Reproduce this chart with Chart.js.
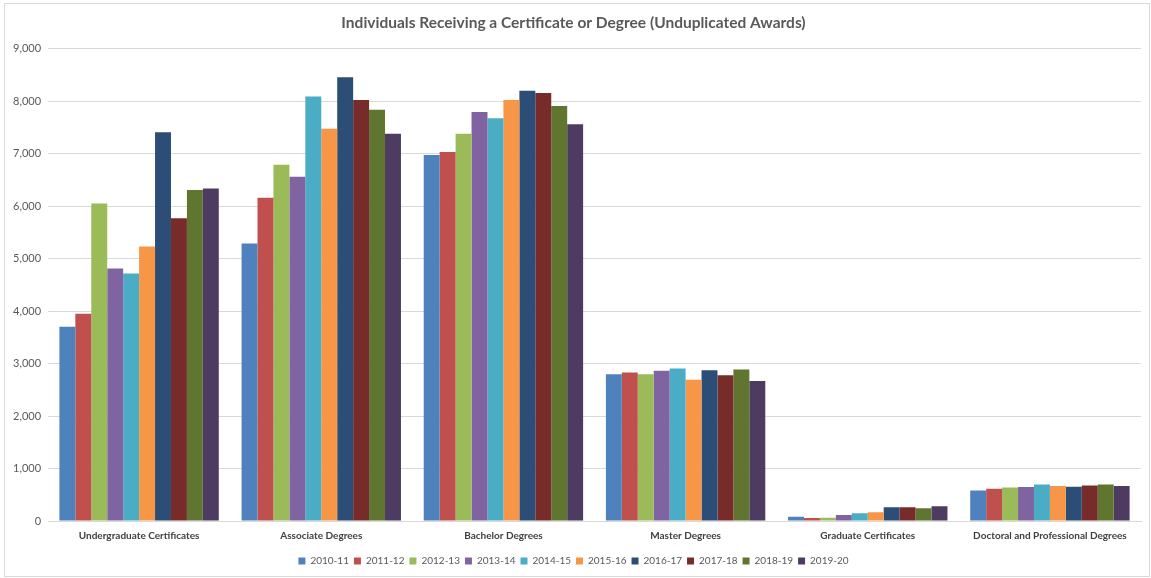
<!DOCTYPE html>
<html>
<head>
<meta charset="utf-8">
<script src="https://cdn.jsdelivr.net/npm/chart.js@4"></script>
<style>
  html, body { margin: 0; padding: 0; background: #ffffff; }
  #frame {
    position: absolute; left: 4px; top: 3px;
    width: 1146px; height: 574px;
    border: 1px solid #d9d9d9; box-sizing: border-box;
  }
  #chart { position: absolute; left: 0; top: 0; }
</style>
</head>
<body>
<div id="frame"><canvas id="chart" width="1144" height="572"></canvas></div>
<script>
// Award categories along the x axis
const categories = [
  'Undergraduate Certificates',
  'Associate Degrees',
  'Bachelor Degrees',
  'Master Degrees',
  'Graduate Certificates',
  'Doctoral and Professional Degrees'
];

// Academic years (one series each)
const years = ['2010-11', '2011-12', '2012-13', '2013-14', '2014-15',
               '2015-16', '2016-17', '2017-18', '2018-19', '2019-20'];

// Unduplicated awards per category, one array per year
const y2010_11 = [3700, 5285, 6975, 2797, 83, 582];
const y2011_12 = [3950, 6160, 7032, 2829, 57, 614];
const y2012_13 = [6050, 6786, 7380, 2797, 63, 640];
const y2013_14 = [4810, 6558, 7791, 2861, 114, 646];
const y2014_15 = [4715, 8089, 7671, 2905, 146, 696];
const y2015_16 = [5230, 7474, 8019, 2690, 165, 665];
const y2016_17 = [7405, 8455, 8196, 2873, 260, 652];
const y2017_18 = [5766, 8019, 8152, 2778, 260, 677];
const y2018_19 = [6304, 7835, 7905, 2886, 241, 696];
const y2019_20 = [6336, 7380, 7557, 2665, 279, 665];

const seriesValues = [y2010_11, y2011_12, y2012_13, y2013_14, y2014_15,
                      y2015_16, y2016_17, y2017_18, y2018_19, y2019_20];

// Office-style palette
const colors = ['#4F81BD', '#C0504D', '#9BBB59', '#8064A2', '#4BACC6',
                '#F79646', '#2C4D75', '#772C2A', '#5F7530', '#4D3B62'];

// Y axis tick values
const yTicks = [0, 1000, 2000, 3000, 4000, 5000, 6000, 7000, 8000, 9000];

const FONT = 'Lato, "Open Sans", "Liberation Sans", sans-serif';
const TEXT = '#595959';

const datasets = years.map((y, i) => ({
  label: y,
  data: seriesValues[i],
  backgroundColor: colors[i],
  borderWidth: 0,
  categoryPercentage: 0.875,
  barPercentage: 1.0
}));

new Chart(document.getElementById('chart'), {
  type: 'bar',
  data: { labels: categories, datasets },
  options: {
    responsive: false,
    animation: false,
    devicePixelRatio: 1,
    layout: { padding: { left: 1, right: 8, top: 10, bottom: 0 } },
    plugins: {
      title: {
        display: true,
        text: 'Individuals Receiving a Certificate or Degree (Unduplicated Awards)',
        color: TEXT,
        font: { family: FONT, size: 15.5, weight: 'bold' },
        padding: { top: 0, bottom: 16 }
      },
      legend: {
        position: 'bottom',
        labels: {
          color: TEXT,
          font: { family: FONT, size: 10 },
          boxWidth: 7,
          boxHeight: 7,
          padding: 5
        }
      },
      tooltip: { enabled: false }
    },
    scales: {
      x: {
        grid: { display: false, drawTicks: false },
        border: { color: '#d9d9d9' },
        ticks: {
          color: '#404040',
          font: { family: FONT, size: 10, weight: 'bold' },
          padding: 9,
          maxRotation: 0,
          autoSkip: false
        }
      },
      y: {
        min: 0,
        max: 9000,
        afterBuildTicks: (axis) => { axis.ticks = yTicks.map(v => ({ value: v })); },
        grid: { color: '#d9d9d9', drawTicks: false },
        border: { display: false },
        ticks: {
          color: TEXT,
          font: { family: FONT, size: 11 },
          padding: 7,
          callback: (v) => v.toLocaleString('en-US')
        }
      }
    }
  }
});
</script>
</body>
</html>
